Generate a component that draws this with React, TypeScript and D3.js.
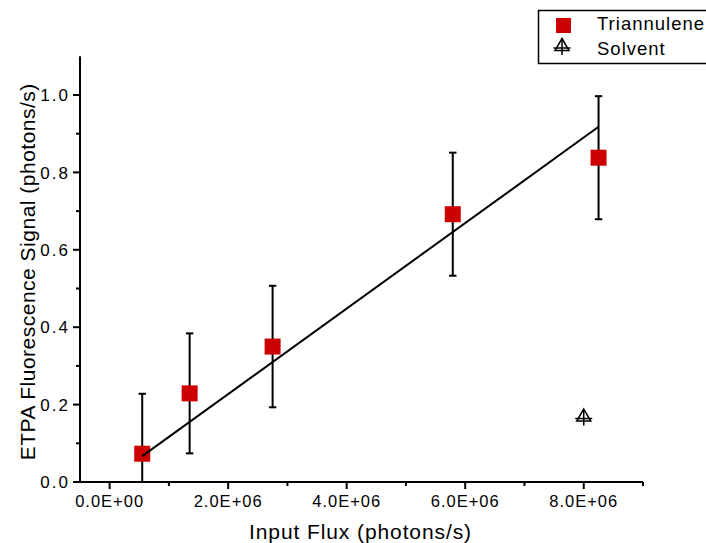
import React from "react";
import * as d3 from "d3";

// ---- data ----
const fluxValues = [0.55e6, 1.35e6, 2.75e6, 5.79e6, 8.25e6];
const signalValues = [0.073, 0.229, 0.35, 0.692, 0.838];
const errorValues = [0.155, 0.155, 0.157, 0.159, 0.159];
const solventFlux = [8.0e6];
const solventSignal = [0.164];
const fitIntercept = 0.0062;
const fitSlope = 1.105e-7;
const xMajorTicks = [0, 2e6, 4e6, 6e6, 8e6];
const xMinorTicks = [1e6, 3e6, 5e6, 7e6, 9e6];
const xTickLabels = ["0.0E+00", "2.0E+06", "4.0E+06", "6.0E+06", "8.0E+06"];
const yMajorTicks = [0, 0.2, 0.4, 0.6, 0.8, 1.0];
const yMinorTicks = [0.1, 0.3, 0.5, 0.7, 0.9];
const yTickLabels = ["0.0", "0.2", "0.4", "0.6", "0.8", "1.0"];
const legendLabels = ["Triannulene", "Solvent"];

const W = 706;
const H = 543;
const FONT = "'Liberation Sans', Arial, sans-serif";
const RED = "#cc0000";

export default function App() {
  const x = d3.scaleLinear().domain([-0.5e6, 9e6]).range([80, 643]);
  const y = d3.scaleLinear().domain([0, 1.1]).range([482, 56.3]);
  const x0 = x.range()[0];
  const y0 = y.range()[0];

  const fitXs = d3.extent(fluxValues) as [number, number];
  const fitLine = d3
    .line<number>()
    .x((v) => x(v))
    .y((v) => y(fitIntercept + fitSlope * v));

  const tri = (cx: number, cy: number, key: string) => (
    <g key={key} transform={`translate(${cx},${cy})`} stroke="#000" strokeWidth={1.5} fill="none">
      <path d="M0,-9.5 L7,2.5 L-7,2.5 Z" strokeLinejoin="miter" />
      <line x1={-8.5} x2={8.5} y1={0} y2={0} />
      <line x1={0} x2={0} y1={-9.5} y2={7} />
    </g>
  );

  const sq = 16;

  return (
    <svg
      width={W}
      height={H}
      style={{ position: "absolute", left: 0, top: 0, background: "#fff" }}
      fontFamily={FONT}
    >
      <rect x={0} y={0} width={W} height={H} fill="#fff" />

      {/* error bars */}
      {fluxValues.map((fx, i) => {
        const cx = x(fx);
        const top = y(signalValues[i] + errorValues[i]);
        const bot = y(Math.max(0, signalValues[i] - errorValues[i]));
        const botClipped = signalValues[i] - errorValues[i] < 0;
        return (
          <g key={"e" + i} stroke="#000" strokeWidth={2}>
            <line x1={cx} x2={cx} y1={top} y2={bot} />
            <line x1={cx - 3.7} x2={cx + 3.7} y1={top} y2={top} />
            {!botClipped && <line x1={cx - 3.7} x2={cx + 3.7} y1={bot} y2={bot} />}
          </g>
        );
      })}

      {/* squares */}
      {fluxValues.map((fx, i) => (
        <rect
          key={"s" + i}
          x={x(fx) - sq / 2}
          y={y(signalValues[i]) - sq / 2}
          width={sq}
          height={sq}
          fill={RED}
        />
      ))}

      {/* fit line */}
      <path d={fitLine(fitXs) || ""} fill="none" stroke="#000" strokeWidth={2} />

      {/* solvent */}
      {solventFlux.map((fx, i) => tri(x(fx), y(solventSignal[i]), "t" + i))}

      {/* axes */}
      <g stroke="#000" strokeWidth={2}>
        <line x1={x0} x2={x.range()[1]} y1={y0} y2={y0} />
        <line x1={x0} x2={x0} y1={y0} y2={y.range()[1]} />
        {xMajorTicks.map((t) => (
          <line key={"xm" + t} x1={x(t)} x2={x(t)} y1={y0} y2={y0 + 7} />
        ))}
        {xMinorTicks.map((t) => (
          <line key={"xn" + t} x1={x(t)} x2={x(t)} y1={y0} y2={y0 + 4} />
        ))}
        {yMajorTicks.map((t) => (
          <line key={"ym" + t} x1={x0 - 7} x2={x0} y1={y(t)} y2={y(t)} />
        ))}
        {yMinorTicks.map((t) => (
          <line key={"yn" + t} x1={x0 - 4} x2={x0} y1={y(t)} y2={y(t)} />
        ))}
      </g>

      {/* tick labels */}
      {xMajorTicks.map((t, i) => (
        <text
          key={"xl" + t}
          x={x(t)}
          y={506.5}
          textAnchor="middle"
          fontSize={16.5}
          letterSpacing={1}
          fill="#000"
        >
          {xTickLabels[i]}
        </text>
      ))}
      {yMajorTicks.map((t, i) => (
        <text
          key={"yl" + t}
          x={70}
          y={y(t)}
          dy="0.36em"
          textAnchor="end"
          fontSize={17}
          letterSpacing={2}
          fill="#000"
        >
          {yTickLabels[i]}
        </text>
      ))}

      {/* axis titles */}
      <text x={360.5} y={539} textAnchor="middle" fontSize={21} letterSpacing={0.9} fill="#000">
        Input Flux (photons/s)
      </text>
      <text
        transform={`translate(35,271.7) rotate(-90)`}
        textAnchor="middle"
        fontSize={21}
        letterSpacing={0.5}
        fill="#000"
      >
        ETPA Fluorescence Signal (photons/s)
      </text>

      {/* legend */}
      <rect x={538.5} y={10.5} width={200} height={53} fill="#fff" stroke="#000" strokeWidth={1.5} />
      <rect x={563.5 - 7.5} y={25.5 - 7.5} width={15} height={15} fill={RED} />
      {tri(562, 48, "lt")}
      <text x={597} y={30} fontSize={18.5} letterSpacing={1} fill="#000">
        {legendLabels[0]}
      </text>
      <text x={597} y={55} fontSize={18.5} letterSpacing={1} fill="#000">
        {legendLabels[1]}
      </text>
    </svg>
  );
}
